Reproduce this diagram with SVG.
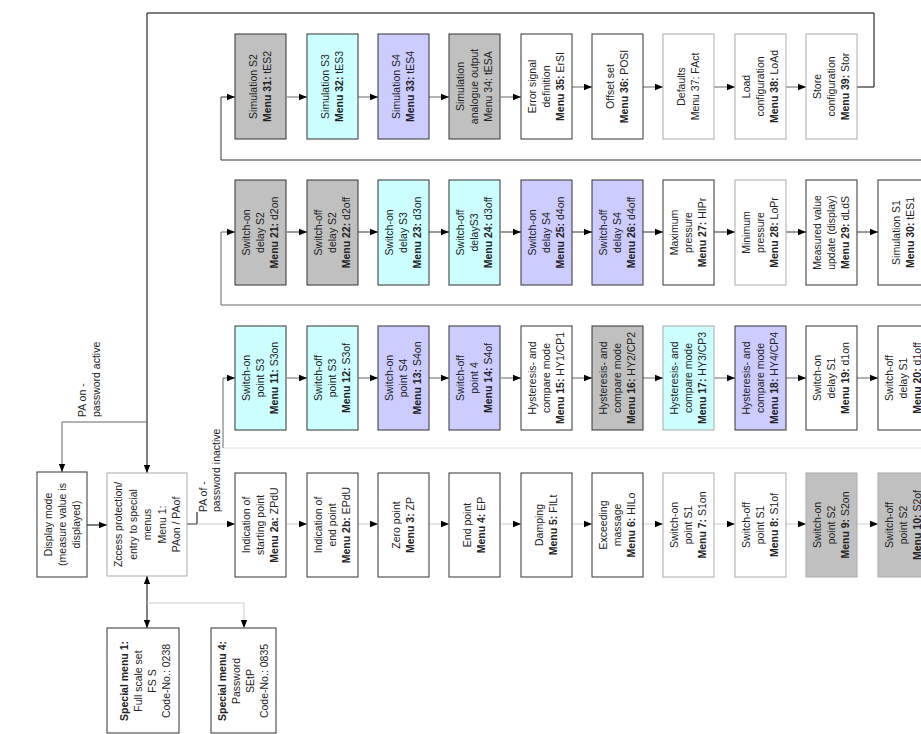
<svg xmlns="http://www.w3.org/2000/svg" width="921" height="734" viewBox="0 0 921 734">
<style>
rect{stroke:#333;stroke-width:1}
.g{fill:#c0c0c0}.c{fill:#ccffff}.v{fill:#ccccff}.w{fill:#fff}
.lt{stroke:#aaa}
text{font-family:"Liberation Sans",Arial,sans-serif;font-size:10.5px;fill:#222}
.b{font-weight:bold}
.cn{fill:none;stroke:#333;stroke-width:1}
.k{stroke:#000}.m{stroke:#666}.f{stroke:#ccc}.ff{stroke:#e2e2e2}
</style>
<defs>
<marker id="ah" viewBox="0 0 10 10" refX="10" refY="5" markerWidth="8" markerHeight="8" markerUnits="userSpaceOnUse" orient="auto-start-reverse"><path d="M0,1 L10,5 L0,9 z" fill="#000"/></marker>
</defs>
<rect x="0" y="0" width="921" height="734" style="fill:#fff;stroke:none"/>

<g id="connectors">
<path class="cn k" d="M857,87 H874 V13 H147 V473" marker-end="url(#ah)"/>
<path class="cn m" d="M147,422 H62 V472" marker-end="url(#ah)"/>
<path class="cn k" d="M87,525 H107" marker-end="url(#ah)"/>
<path class="cn k" d="M147,576 V628" marker-start="url(#ah)" marker-end="url(#ah)"/>
<path class="cn f" d="M147,603 H244 V628" marker-end="url(#ah)"/>
<path class="cn k" d="M197,512 V524"/>
<path class="cn" d="M187,524 H197"/>
<path class="cn f" d="M197,524 H235" marker-end="url(#ah)"/>
<path class="cn" d="M921,160 H221 V97 H235" marker-end="url(#ah)"/>
<path class="cn m" d="M921,305 H221 V232 H235" marker-end="url(#ah)"/>
<path class="cn ff" d="M921,448 H223"/>
<path class="cn m" d="M223,448 V378 H235" marker-end="url(#ah)"/>
<g class="cn m">
<path d="M287,97 H307" marker-end="url(#ah)"/>
<path d="M358,97 H378" marker-end="url(#ah)"/>
<path d="M429,97 H449" marker-end="url(#ah)"/>
<path d="M501,97 H521" marker-end="url(#ah)"/>
<path d="M572,87 H592" marker-end="url(#ah)"/>
<path d="M643,87 H663" marker-end="url(#ah)"/>
<path d="M714,87 H735" marker-end="url(#ah)"/>
<path d="M785,87 H806" marker-end="url(#ah)"/>
</g>
<g class="cn">
<path d="M287,232 H307" marker-end="url(#ah)"/>
<path d="M358,232 H378" marker-end="url(#ah)"/>
<path d="M429,232 H449" marker-end="url(#ah)"/>
<path d="M501,232 H521" marker-end="url(#ah)"/>
<path d="M572,232 H592" marker-end="url(#ah)"/>
<path d="M643,232 H663" marker-end="url(#ah)"/>
<path d="M714,232 H735" marker-end="url(#ah)"/>
<path d="M785,232 H806" marker-end="url(#ah)"/>
<path d="M857,232 H878" marker-end="url(#ah)"/>
</g>
<g class="cn m">
<path d="M287,378 H307" marker-end="url(#ah)"/>
<path d="M358,378 H378" marker-end="url(#ah)"/>
<path d="M429,378 H449" marker-end="url(#ah)"/>
<path d="M501,378 H521" marker-end="url(#ah)"/>
<path d="M572,378 H592" marker-end="url(#ah)"/>
<path d="M643,378 H663" marker-end="url(#ah)"/>
<path d="M714,378 H735" marker-end="url(#ah)"/>
<path d="M785,378 H806" marker-end="url(#ah)"/>
<path d="M857,378 H878" marker-end="url(#ah)"/>
</g>
<g class="cn f">
<path d="M287,524 H307" marker-end="url(#ah)"/>
<path d="M358,524 H378" marker-end="url(#ah)"/>
<path d="M429,524 H449" marker-end="url(#ah)"/>
<path d="M501,524 H521" marker-end="url(#ah)"/>
<path d="M572,524 H592" marker-end="url(#ah)"/>
<path d="M643,524 H663" marker-end="url(#ah)"/>
<path d="M714,524 H735" marker-end="url(#ah)"/>
<path d="M785,524 H806" marker-end="url(#ah)"/>
<path d="M857,524 H878" marker-end="url(#ah)"/>
</g>
<text transform="translate(86,417) rotate(-90)">PA on -</text>
<text transform="translate(100,417) rotate(-90)">password active</text>
<text transform="translate(207,512) rotate(-90)">PA of -</text>
<text transform="translate(220,512) rotate(-90)">password inactive</text>
</g>

<!-- Row 1 -->
<g id="m31"><rect class="g" x="235" y="34" width="51" height="105"/><text text-anchor="middle" transform="translate(260.5,86.5) rotate(-90)"><tspan x="0" y="-3.3">Simulation S2</tspan><tspan x="0" y="10.7"><tspan class="b">Menu 31:</tspan> tES2</tspan></text></g>
<g id="m32"><rect class="c" x="307" y="34" width="51" height="105"/><text text-anchor="middle" transform="translate(332.5,86.5) rotate(-90)"><tspan x="0" y="-3.3">Simulation S3</tspan><tspan x="0" y="10.7"><tspan class="b">Menu 32:</tspan> tES3</tspan></text></g>
<g id="m33"><rect class="v" x="378" y="34" width="51" height="105"/><text text-anchor="middle" transform="translate(403.5,86.5) rotate(-90)"><tspan x="0" y="-3.3">Simulation S4</tspan><tspan x="0" y="10.7"><tspan class="b">Menu 33:</tspan> tES4</tspan></text></g>
<g id="m34"><rect class="g" x="449" y="34" width="51" height="105"/><text text-anchor="middle" transform="translate(474.5,86.5) rotate(-90)"><tspan x="0" y="-10.3">Simulation</tspan><tspan x="0" y="3.7">analogue output</tspan><tspan x="0" y="17.7">Menu 34: tESA</tspan></text></g>
<g id="m35"><rect class="w" x="521" y="34" width="51" height="105"/><text text-anchor="middle" transform="translate(546.5,86.5) rotate(-90)"><tspan x="0" y="-10.3">Error signal</tspan><tspan x="0" y="3.7">definition</tspan><tspan x="0" y="17.7"><tspan class="b">Menu 35:</tspan> ErSI</tspan></text></g>
<g id="m36"><rect class="w" x="592" y="34" width="51" height="105"/><text text-anchor="middle" transform="translate(617.5,86.5) rotate(-90)"><tspan x="0" y="-3.3">Offset set</tspan><tspan x="0" y="10.7"><tspan class="b">Menu 36:</tspan> POSI</tspan></text></g>
<g id="m37"><rect class="w lt" x="663" y="34" width="51" height="105"/><text text-anchor="middle" transform="translate(688.5,86.5) rotate(-90)"><tspan x="0" y="-3.3">Defaults</tspan><tspan x="0" y="10.7">Menu 37: FAct</tspan></text></g>
<g id="m38"><rect class="w lt" x="735" y="34" width="51" height="105"/><text text-anchor="middle" transform="translate(760.5,86.5) rotate(-90)"><tspan x="0" y="-10.3">Load</tspan><tspan x="0" y="3.7">configuration</tspan><tspan x="0" y="17.7"><tspan class="b">Menu 38:</tspan> LoAd</tspan></text></g>
<g id="m39"><rect class="w lt" x="806" y="34" width="51" height="105"/><text text-anchor="middle" transform="translate(831.5,86.5) rotate(-90)"><tspan x="0" y="-10.3">Store</tspan><tspan x="0" y="3.7">configuration</tspan><tspan x="0" y="17.7"><tspan class="b">Menu 39:</tspan> Stor</tspan></text></g>

<!-- Row 2 -->
<g id="m21"><rect class="g" x="235" y="180" width="51" height="105"/><text text-anchor="middle" transform="translate(260.5,232.5) rotate(-90)"><tspan x="0" y="-10.3">Switch-on</tspan><tspan x="0" y="3.7">delay  S2</tspan><tspan x="0" y="17.7"><tspan class="b">Menu 21:</tspan> d2on</tspan></text></g>
<g id="m22"><rect class="g" x="307" y="180" width="51" height="105"/><text text-anchor="middle" transform="translate(332.5,232.5) rotate(-90)"><tspan x="0" y="-10.3">Switch-off</tspan><tspan x="0" y="3.7">delay S2</tspan><tspan x="0" y="17.7"><tspan class="b">Menu 22:</tspan> d2off</tspan></text></g>
<g id="m23"><rect class="c" x="378" y="180" width="51" height="105"/><text text-anchor="middle" transform="translate(403.5,232.5) rotate(-90)"><tspan x="0" y="-10.3">Switch-on</tspan><tspan x="0" y="3.7">delay S3</tspan><tspan x="0" y="17.7"><tspan class="b">Menu 23:</tspan> d3on</tspan></text></g>
<g id="m24"><rect class="c" x="449" y="180" width="51" height="105"/><text text-anchor="middle" transform="translate(474.5,232.5) rotate(-90)"><tspan x="0" y="-10.3">Switch-off</tspan><tspan x="0" y="3.7">delayS3</tspan><tspan x="0" y="17.7"><tspan class="b">Menu 24:</tspan> d3off</tspan></text></g>
<g id="m25"><rect class="v" x="521" y="180" width="51" height="105"/><text text-anchor="middle" transform="translate(546.5,232.5) rotate(-90)"><tspan x="0" y="-10.3">Switch-on</tspan><tspan x="0" y="3.7">delay  S4</tspan><tspan x="0" y="17.7"><tspan class="b">Menu 25:</tspan> d4on</tspan></text></g>
<g id="m26"><rect class="v" x="592" y="180" width="51" height="105"/><text text-anchor="middle" transform="translate(617.5,232.5) rotate(-90)"><tspan x="0" y="-10.3">Switch-off</tspan><tspan x="0" y="3.7">delay S4</tspan><tspan x="0" y="17.7"><tspan class="b">Menu 26:</tspan> d4off</tspan></text></g>
<g id="m27"><rect class="w" x="663" y="180" width="51" height="105"/><text text-anchor="middle" transform="translate(688.5,232.5) rotate(-90)"><tspan x="0" y="-10.3">Maximum</tspan><tspan x="0" y="3.7">pressure</tspan><tspan x="0" y="17.7"><tspan class="b">Menu 27:</tspan> HIPr</tspan></text></g>
<g id="m28"><rect class="w lt" x="735" y="180" width="51" height="105"/><text text-anchor="middle" transform="translate(760.5,232.5) rotate(-90)"><tspan x="0" y="-10.3">Minimum</tspan><tspan x="0" y="3.7">pressure</tspan><tspan x="0" y="17.7"><tspan class="b">Menu 28:</tspan> LoPr</tspan></text></g>
<g id="m29"><rect class="w" x="806" y="180" width="51" height="105"/><text text-anchor="middle" transform="translate(831.5,232.5) rotate(-90)"><tspan x="0" y="-10.3">Measured value</tspan><tspan x="0" y="3.7">update (display)</tspan><tspan x="0" y="17.7"><tspan class="b">Menu 29:</tspan> dLdS</tspan></text></g>
<g id="m30"><rect class="w" x="878" y="180" width="51" height="105"/><text text-anchor="middle" transform="translate(903.5,232.5) rotate(-90)"><tspan x="0" y="-3.3">Simulation S1</tspan><tspan x="0" y="10.7"><tspan class="b">Menu 30:</tspan> tES1</tspan></text></g>

<!-- Row 3 -->
<g id="m11"><rect class="c" x="235" y="326" width="51" height="104"/><text text-anchor="middle" transform="translate(260.5,378) rotate(-90)"><tspan x="0" y="-10.3">Switch-on</tspan><tspan x="0" y="3.7">point S3</tspan><tspan x="0" y="17.7"><tspan class="b">Menu 11:</tspan> S3on</tspan></text></g>
<g id="m12"><rect class="c" x="307" y="326" width="51" height="104"/><text text-anchor="middle" transform="translate(332.5,378) rotate(-90)"><tspan x="0" y="-10.3">Switch-off</tspan><tspan x="0" y="3.7">point S3</tspan><tspan x="0" y="17.7"><tspan class="b">Menu 12:</tspan> S3of</tspan></text></g>
<g id="m13"><rect class="v" x="378" y="326" width="51" height="104"/><text text-anchor="middle" transform="translate(403.5,378) rotate(-90)"><tspan x="0" y="-10.3">Switch-on</tspan><tspan x="0" y="3.7">point S4</tspan><tspan x="0" y="17.7"><tspan class="b">Menu 13:</tspan> S4on</tspan></text></g>
<g id="m14"><rect class="v" x="449" y="326" width="51" height="104"/><text text-anchor="middle" transform="translate(474.5,378) rotate(-90)"><tspan x="0" y="-10.3">Switch-off</tspan><tspan x="0" y="3.7">point 4</tspan><tspan x="0" y="17.7"><tspan class="b">Menu 14:</tspan> S4of</tspan></text></g>
<g id="m15"><rect class="w" x="521" y="326" width="51" height="104"/><text text-anchor="middle" transform="translate(546.5,378) rotate(-90)"><tspan x="0" y="-10.3">Hysteresis- and</tspan><tspan x="0" y="3.7">compare mode</tspan><tspan x="0" y="17.7"><tspan class="b">Menu 15:</tspan> HY1/CP1</tspan></text></g>
<g id="m16"><rect class="g" x="592" y="326" width="51" height="104"/><text text-anchor="middle" transform="translate(617.5,378) rotate(-90)"><tspan x="0" y="-10.3">Hysteresis- and</tspan><tspan x="0" y="3.7">compare mode</tspan><tspan x="0" y="17.7"><tspan class="b">Menu 16:</tspan> HY2/CP2</tspan></text></g>
<g id="m17"><rect class="c lt" x="663" y="326" width="51" height="104"/><text text-anchor="middle" transform="translate(688.5,378) rotate(-90)"><tspan x="0" y="-10.3">Hysteresis- and</tspan><tspan x="0" y="3.7">compare mode</tspan><tspan x="0" y="17.7"><tspan class="b">Menu 17:</tspan> HY3/CP3</tspan></text></g>
<g id="m18"><rect class="v" x="735" y="326" width="51" height="104"/><text text-anchor="middle" transform="translate(760.5,378) rotate(-90)"><tspan x="0" y="-10.3">Hysteresis- and</tspan><tspan x="0" y="3.7">compare mode</tspan><tspan x="0" y="17.7"><tspan class="b">Menu 18:</tspan> HY4/CP4</tspan></text></g>
<g id="m19"><rect class="w" x="806" y="326" width="51" height="104"/><text text-anchor="middle" transform="translate(831.5,378) rotate(-90)"><tspan x="0" y="-10.3">Switch-on</tspan><tspan x="0" y="3.7">delay  S1</tspan><tspan x="0" y="17.7"><tspan class="b">Menu 19:</tspan> d1on</tspan></text></g>
<g id="m20"><rect class="w" x="878" y="326" width="51" height="104"/><text text-anchor="middle" transform="translate(903.5,378) rotate(-90)"><tspan x="0" y="-10.3">Switch-off</tspan><tspan x="0" y="3.7">delay S1</tspan><tspan x="0" y="17.7"><tspan class="b">Menu 20:</tspan> d1off</tspan></text></g>

<!-- Row 4 -->
<g id="m2a"><rect class="w" x="235" y="473" width="51" height="104"/><text text-anchor="middle" transform="translate(260.5,525) rotate(-90)"><tspan x="0" y="-10.3">Indication of</tspan><tspan x="0" y="3.7">starting point</tspan><tspan x="0" y="17.7"><tspan class="b">Menu 2a:</tspan> ZPdU</tspan></text></g>
<g id="m2b"><rect class="w" x="307" y="473" width="51" height="104"/><text text-anchor="middle" transform="translate(332.5,525) rotate(-90)"><tspan x="0" y="-10.3">Indication of</tspan><tspan x="0" y="3.7">end point</tspan><tspan x="0" y="17.7"><tspan class="b">Menu 2b:</tspan> EPdU</tspan></text></g>
<g id="m3"><rect class="w" x="378" y="473" width="51" height="104"/><text text-anchor="middle" transform="translate(403.5,525) rotate(-90)"><tspan x="0" y="-3.3">Zero point</tspan><tspan x="0" y="10.7"><tspan class="b">Menu 3:</tspan> ZP</tspan></text></g>
<g id="m4"><rect class="w" x="449" y="473" width="51" height="104"/><text text-anchor="middle" transform="translate(474.5,525) rotate(-90)"><tspan x="0" y="-3.3">End point</tspan><tspan x="0" y="10.7"><tspan class="b">Menu 4:</tspan> EP</tspan></text></g>
<g id="m5"><rect class="w" x="521" y="473" width="51" height="104"/><text text-anchor="middle" transform="translate(546.5,525) rotate(-90)"><tspan x="0" y="-3.3">Damping</tspan><tspan x="0" y="10.7"><tspan class="b">Menu 5:</tspan> FILt</tspan></text></g>
<g id="m6"><rect class="w" x="592" y="473" width="51" height="104"/><text text-anchor="middle" transform="translate(617.5,525) rotate(-90)"><tspan x="0" y="-10.3">Exceeding</tspan><tspan x="0" y="3.7">massage</tspan><tspan x="0" y="17.7"><tspan class="b">Menu 6:</tspan> HILo</tspan></text></g>
<g id="m7"><rect class="w lt" x="663" y="473" width="51" height="104"/><text text-anchor="middle" transform="translate(688.5,525) rotate(-90)"><tspan x="0" y="-10.3">Switch-on</tspan><tspan x="0" y="3.7">point S1</tspan><tspan x="0" y="17.7"><tspan class="b">Menu 7:</tspan> S1on</tspan></text></g>
<g id="m8"><rect class="w lt" x="735" y="473" width="51" height="104"/><text text-anchor="middle" transform="translate(760.5,525) rotate(-90)"><tspan x="0" y="-10.3">Switch-off</tspan><tspan x="0" y="3.7">point S1</tspan><tspan x="0" y="17.7"><tspan class="b">Menu 8:</tspan> S1of</tspan></text></g>
<g id="m9"><rect class="g lt" x="806" y="473" width="51" height="104"/><text text-anchor="middle" transform="translate(831.5,525) rotate(-90)"><tspan x="0" y="-10.3">Switch-on</tspan><tspan x="0" y="3.7">point S2</tspan><tspan x="0" y="17.7"><tspan class="b">Menu 9:</tspan> S2on</tspan></text></g>
<g id="m10"><rect class="g lt" x="878" y="473" width="51" height="104"/><text text-anchor="middle" transform="translate(903.5,525) rotate(-90)"><tspan x="0" y="-10.3">Switch-off</tspan><tspan x="0" y="3.7">point S2</tspan><tspan x="0" y="17.7"><tspan class="b">Menu 10:</tspan> S2of</tspan></text></g>

<!-- Left side -->
<g id="display"><rect class="w" x="37" y="472" width="50" height="105"/><text text-anchor="middle" transform="translate(62,524.5) rotate(-90)"><tspan x="0" y="-10.3">Display mode</tspan><tspan x="0" y="3.7">(measure value is</tspan><tspan x="0" y="17.7">displayed)</tspan></text></g>
<g id="m1"><rect class="w lt" x="107" y="473" width="80" height="103"/><text text-anchor="middle" transform="translate(147,524.5) rotate(-90)"><tspan x="0" y="-24.8">Zccess protection/</tspan><tspan x="0" y="-10.3">entry to special</tspan><tspan x="0" y="4.2">menus</tspan><tspan x="0" y="18.7">Menu 1:</tspan><tspan x="0" y="33.2">PAon / PAof</tspan></text></g>
<g id="sm1"><rect class="w" x="107" y="628" width="72" height="105"/><text text-anchor="middle" transform="translate(145,681) rotate(-90)"><tspan x="0" y="-17.5" class="b">Special menu 1:</tspan><tspan x="0" y="-3.5">Full scale set</tspan><tspan x="0" y="10.5">FS S</tspan><tspan x="0" y="24.5">Code-No.: 0238</tspan></text></g>
<g id="sm4"><rect class="w" x="211" y="628" width="65" height="105"/><text text-anchor="middle" transform="translate(243.5,681) rotate(-90)"><tspan x="0" y="-17.5" class="b">Special menu 4:</tspan><tspan x="0" y="-3.5">Password</tspan><tspan x="0" y="10.5">SEtP</tspan><tspan x="0" y="24.5">Code-No.: 0835</tspan></text></g>
</svg>
